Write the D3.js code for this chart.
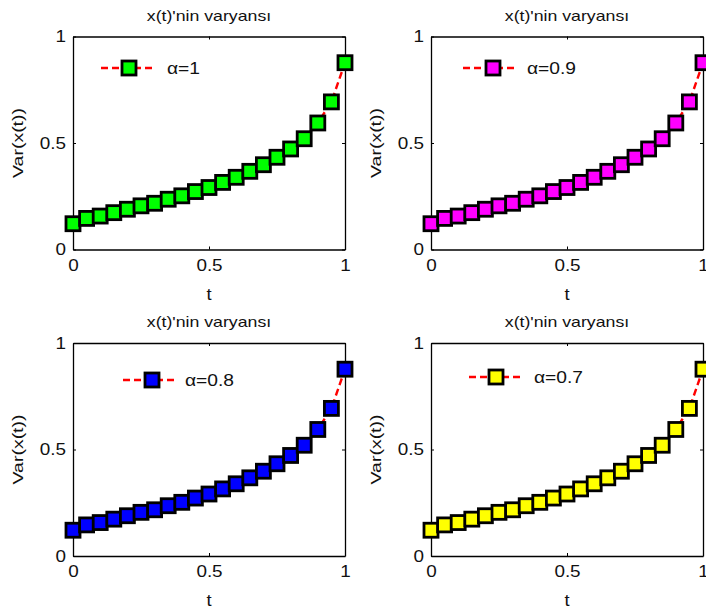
<!DOCTYPE html>
<html>
<head>
<meta charset="utf-8">
<script src="https://cdn.jsdelivr.net/npm/d3@7"></script>
<style>
  html, body { margin: 0; padding: 0; background: #fff; }
  svg { display: block; }
  text { font-family: "Liberation Sans", Arial, sans-serif; fill: #111; }
</style>
</head>
<body>
<svg id="chart" width="706" height="613"></svg>
<script>
// Time grid and variance of x(t) for each fractional order alpha
const tValues = [0, 0.05, 0.1, 0.15, 0.2, 0.25, 0.3, 0.35, 0.4, 0.45, 0.5,
                 0.55, 0.6, 0.65, 0.7, 0.75, 0.8, 0.85, 0.9, 0.95, 1];
const varAlpha1  = [0.121, 0.146, 0.157, 0.173, 0.189, 0.205, 0.217, 0.236, 0.252, 0.272, 0.291,
                    0.315, 0.339, 0.367, 0.398, 0.433, 0.472, 0.520, 0.594, 0.693, 0.877];
const varAlpha09 = [0.121, 0.146, 0.157, 0.173, 0.189, 0.205, 0.217, 0.236, 0.252, 0.272, 0.291,
                    0.315, 0.339, 0.367, 0.398, 0.433, 0.472, 0.520, 0.594, 0.693, 0.877];
const varAlpha08 = [0.121, 0.146, 0.157, 0.173, 0.189, 0.205, 0.217, 0.236, 0.252, 0.272, 0.291,
                    0.315, 0.339, 0.367, 0.398, 0.433, 0.472, 0.520, 0.594, 0.693, 0.877];
const varAlpha07 = [0.121, 0.146, 0.157, 0.173, 0.189, 0.205, 0.217, 0.236, 0.252, 0.272, 0.291,
                    0.315, 0.339, 0.367, 0.398, 0.433, 0.472, 0.520, 0.594, 0.693, 0.877];
const legendLabels = ["α=1", "α=0.9", "α=0.8", "α=0.7"];
const markerColors = ["#00ff00", "#ff00ff", "#0000ff", "#ffff00"];
const tickValues = [0, 0.5, 1];
const tickLabels = ["0", "0.5", "1"];
const titleText = "x(t)'nin varyansı";
const xLabel = "t";
const yLabel = "Var(x(t))";

const series = [varAlpha1, varAlpha09, varAlpha08, varAlpha07];

// Panel frames (axes boxes) and legend offsets within each panel
const panels = [
  { left: 73,  top: 36.5, legend: { x0: 28, x1: 82,  xm: 56, xt: 94,  y: 31.5 } },
  { left: 431, top: 36.5, legend: { x0: 32, x1: 87,  xm: 62, xt: 96,  y: 31.5 } },
  { left: 73,  top: 343,  legend: { x0: 50, x1: 105, xm: 79, xt: 112, y: 37 } },
  { left: 431, top: 343,  legend: { x0: 38, x1: 93,  xm: 65, xt: 103, y: 34 } }
];
const W = 272, H = 213;
const M = 14; // marker size

// Widen glyphs horizontally (the wide Helvetica look of the original plot)
function widen(sel, k) {
  sel.each(function () {
    const len = this.getComputedTextLength();
    d3.select(this).attr("textLength", len * k).attr("lengthAdjust", "spacingAndGlyphs");
  });
}

const svg = d3.select("#chart");

panels.forEach((p, i) => {
  const values = series[i];
  const g = svg.append("g").attr("transform", `translate(${p.left},${p.top})`);
  const x = d3.scaleLinear().domain([0, 1]).range([0, W]);
  const y = d3.scaleLinear().domain([0, 1]).range([H, 0]);

  // Axes box with inward ticks on all four sides
  const fmt = (d) => tickLabels[tickValues.indexOf(d)];
  const bottom = g.append("g").attr("transform", `translate(0,${H})`)
    .call(d3.axisBottom(x).tickValues(tickValues).tickSizeInner(-3).tickSizeOuter(0).tickFormat(fmt).tickPadding(10));
  const top = g.append("g")
    .call(d3.axisTop(x).tickValues(tickValues).tickSizeInner(-3).tickSizeOuter(0).tickFormat(""));
  const left = g.append("g")
    .call(d3.axisLeft(y).tickValues(tickValues).tickSizeInner(-3).tickSizeOuter(0).tickFormat(fmt).tickPadding(7));
  const right = g.append("g").attr("transform", `translate(${W},0)`)
    .call(d3.axisRight(y).tickValues(tickValues).tickSizeInner(-3).tickSizeOuter(0).tickFormat(""));
  [bottom, top, left, right].forEach(a => {
    a.select(".domain").attr("stroke", "#000").attr("stroke-width", 1.3);
    a.selectAll(".tick line").attr("stroke", "#000");
    a.selectAll("text")
      .attr("fill", "#111")
      .style("font-size", "16px")
      .style("font-family", "'Liberation Sans', Arial, sans-serif");
    widen(a.selectAll("text"), 1.18);
  });

  // Red dashed connecting line
  const line = d3.line().x((d, k) => x(tValues[k])).y(d => y(d));
  g.append("path").datum(values)
    .attr("d", line)
    .attr("fill", "none")
    .attr("stroke", "#ff0000")
    .attr("stroke-width", 2.4)
    .attr("stroke-dasharray", "7,4");

  // Square markers
  g.selectAll("rect.m").data(values).join("rect")
    .attr("class", "m")
    .attr("x", (d, k) => x(tValues[k]) - M / 2)
    .attr("y", d => y(d) - M / 2)
    .attr("width", M).attr("height", M)
    .attr("fill", markerColors[i])
    .attr("stroke", "#000")
    .attr("stroke-width", 2.8);

  // Legend (no box)
  const L = p.legend;
  g.append("line")
    .attr("x1", L.x0).attr("x2", L.x1).attr("y1", L.y).attr("y2", L.y)
    .attr("stroke", "#ff0000").attr("stroke-width", 2.4).attr("stroke-dasharray", "7,4");
  g.append("rect")
    .attr("x", L.xm - M / 2).attr("y", L.y - M / 2)
    .attr("width", M).attr("height", M)
    .attr("fill", markerColors[i]).attr("stroke", "#000").attr("stroke-width", 2.8);
  widen(g.append("text")
    .attr("x", L.xt).attr("y", L.y).attr("dy", "0.36em")
    .style("font-size", "16px")
    .text(legendLabels[i]), 1.2);

  // Title and axis labels
  widen(g.append("text")
    .attr("x", W / 2).attr("y", -16)
    .attr("text-anchor", "middle")
    .style("font-size", "15px")
    .text(titleText), 1.18);
  widen(g.append("text")
    .attr("x", W / 2).attr("y", H + 50)
    .attr("text-anchor", "middle")
    .style("font-size", "16px")
    .text(xLabel), 1.15);
  widen(g.append("text")
    .attr("transform", `translate(-50,${H / 2}) rotate(-90)`)
    .attr("text-anchor", "middle")
    .style("font-size", "15px")
    .text(yLabel), 1.3);
});
</script>
</body>
</html>
